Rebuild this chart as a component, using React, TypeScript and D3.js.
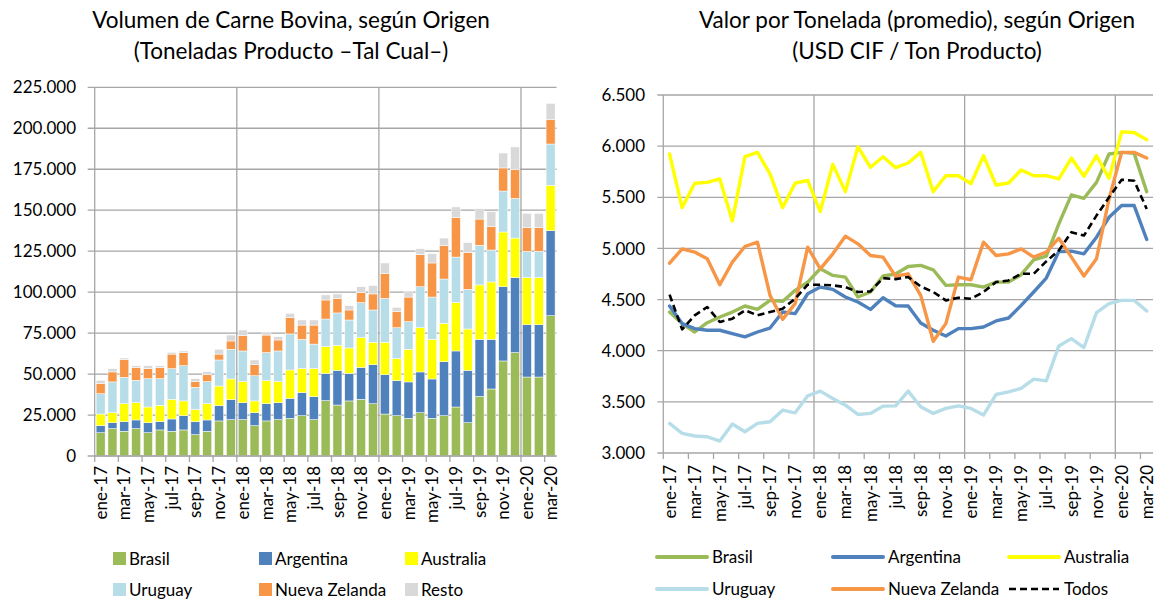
import React from 'react';
import * as d3 from 'd3';

const months = [
  'ene-17','feb-17','mar-17','abr-17','may-17','jun-17','jul-17','ago-17','sep-17','oct-17','nov-17','dic-17',
  'ene-18','feb-18','mar-18','abr-18','may-18','jun-18','jul-18','ago-18','sep-18','oct-18','nov-18','dic-18',
  'ene-19','feb-19','mar-19','abr-19','may-19','jun-19','jul-19','ago-19','sep-19','oct-19','nov-19','dic-19',
  'ene-20','feb-20','mar-20'
];

// Volume (tonnes), by origin
const brasilVol = [14200,16700,15100,16700,14200,15900,15100,15900,13000,15100,21400,22200,22200,18500,21400,22200,23000,24600,22200,33800,31100,33600,34600,31900,25600,24600,23000,26400,23000,24600,29900,20300,36400,40900,58000,63100,48200,48200,85600];
const argentinaVol = [4300,3600,5900,5300,6100,5100,7500,8700,8000,6900,9300,12200,10300,7900,10500,10300,12200,14100,14000,16600,21200,16800,19500,23800,24000,21400,22200,24900,24000,33000,34200,32000,34800,30300,45300,45700,31900,31900,51900];
const australiaVol = [7100,6100,10900,10500,9600,9900,12000,9000,7300,9900,12000,12600,12900,7200,14100,12900,17300,14600,17100,16300,15200,15500,18100,13700,19800,13400,19900,27000,24200,23400,29500,25200,33200,35000,33400,24200,28700,28700,27700];
const uruguayVol = [12400,18800,16100,13700,17300,16300,18700,21500,13600,13500,15900,18100,18700,15400,17100,18700,22000,17900,15000,16900,19800,17100,21400,19700,26800,18900,16900,25000,25800,27000,27800,24200,24200,19500,25000,24200,16100,16100,25200];
const nzVol = [6100,6100,11000,7900,6100,6900,8900,8000,3500,4200,3600,5100,9500,6700,10700,6700,9900,8700,11600,11600,8700,6100,6100,9800,15100,9800,15000,19600,20800,20400,24000,22400,16000,14300,14100,17700,14400,14400,15000];
const restoVol = [2100,2000,800,1000,1800,1000,1100,1000,1800,1900,2900,3600,3300,2900,1900,2000,2700,3100,3100,3100,2900,2600,3600,5200,6500,2600,3700,3600,5700,4600,6600,6100,6300,9100,9100,13700,8800,8800,9800];

// Price (USD CIF / ton)
const brasilPrice = [4378,4265,4183,4274,4330,4378,4437,4404,4492,4482,4590,4671,4801,4736,4720,4525,4574,4730,4750,4824,4834,4791,4639,4645,4645,4622,4671,4671,4743,4889,4925,5240,5523,5490,5646,5923,5939,5929,5555];
const argentinaPrice = [4437,4265,4216,4200,4200,4167,4135,4183,4222,4378,4362,4557,4622,4600,4525,4476,4404,4518,4440,4437,4271,4200,4144,4216,4216,4232,4291,4320,4443,4574,4710,4970,4973,4947,5110,5305,5419,5419,5087];
const australiaPrice = [5923,5399,5637,5646,5679,5269,5897,5939,5728,5399,5637,5666,5360,5822,5555,5994,5793,5897,5790,5835,5939,5555,5711,5711,5633,5906,5620,5640,5767,5711,5711,5679,5884,5705,5906,5685,6140,6134,6062];
const uruguayPrice = [3289,3192,3166,3159,3117,3283,3208,3289,3306,3419,3393,3559,3605,3533,3468,3377,3387,3458,3461,3605,3452,3387,3436,3461,3436,3371,3572,3598,3631,3722,3705,4047,4118,4031,4372,4460,4492,4492,4388];
const nzPrice = [4856,4996,4964,4899,4645,4866,5019,5061,4541,4307,4460,5012,4801,4947,5120,5045,4931,4915,4728,4752,4541,4092,4265,4720,4694,5061,4931,4947,4996,4915,4964,5100,4915,4730,4899,5484,5939,5939,5884];
const todosPrice = [4548,4209,4346,4427,4281,4313,4395,4346,4378,4411,4508,4645,4645,4639,4622,4574,4580,4710,4700,4720,4629,4574,4492,4518,4508,4574,4671,4687,4752,4752,4873,4980,5159,5126,5321,5500,5672,5662,5386];

const volTicks = [0,25000,50000,75000,100000,125000,150000,175000,200000,225000];
const priceTicks = [3000,3500,4000,4500,5000,5500,6000,6500];

const barSeries = [
  { key: 'Brasil', values: brasilVol, color: '#9BBB59' },
  { key: 'Argentina', values: argentinaVol, color: '#4F81BD' },
  { key: 'Australia', values: australiaVol, color: '#FFFF00' },
  { key: 'Uruguay', values: uruguayVol, color: '#B7DEE8' },
  { key: 'Nueva Zelanda', values: nzVol, color: '#F79646' },
  { key: 'Resto', values: restoVol, color: '#D9D9D9' },
];
const lineSeries = [
  { key: 'Brasil', values: brasilPrice, color: '#9BBB59', dash: null },
  { key: 'Argentina', values: argentinaPrice, color: '#4F81BD', dash: null },
  { key: 'Australia', values: australiaPrice, color: '#FFFF00', dash: null },
  { key: 'Uruguay', values: uruguayPrice, color: '#B7DEE8', dash: null },
  { key: 'Nueva Zelanda', values: nzPrice, color: '#F79646', dash: null },
  { key: 'Todos', values: todosPrice, color: '#000000', dash: '7,4' },
];

const FONT = "Lato, 'Open Sans', sans-serif";
const GRID = '#A6A6A6';
const locale = d3.formatLocale({ decimal: ',', thousands: '.', grouping: [3], currency: ['', ''] });
const fmt = locale.format(',');

export default function App() {
  const W = 1158, H = 601;

  // ---------- Left: stacked bars ----------
  const LX0 = 94.7, LX1 = 556.5, LY0 = 456, LY1 = 87.3;
  const xL = d3.scaleBand<string>().domain(months).range([LX0, LX1]).paddingInner(0.24).paddingOuter(0.12);
  const yL = d3.scaleLinear().domain([0, 225000]).range([LY0, LY1]);
  const rows = months.map((m, i) => {
    const r: any = { month: m };
    barSeries.forEach(s => { r[s.key] = s.values[i]; });
    return r;
  });
  const stacked = d3.stack<any>().keys(barSeries.map(s => s.key))(rows);
  const stepL = xL.step();

  // ---------- Right: lines ----------
  const RX0 = 663.3, RX1 = 1153, RY0 = 453, RY1 = 95;
  const xR = d3.scaleBand<string>().domain(months).range([RX0, RX1]).padding(0);
  const yR = d3.scaleLinear().domain([3000, 6500]).range([RY0, RY1]);
  const stepR = xR.step();
  const line = d3.line<number>()
    .x((_, i) => (xR(months[i]) as number) + stepR / 2)
    .y(d => yR(d));

  const evenIdx = d3.range(0, months.length, 2);
  const yearIdx = [12, 24, 36];

  const xLabel = (cx: number, y0: number, text: string, key: string) => (
    <text key={key} transform={`translate(${cx},${y0}) rotate(-90)`} textAnchor="end" dy="0.36em"
      fontSize={17} fontFamily={FONT} fill="#000">{text}</text>
  );

  return (
    <svg width={W} height={H} style={{ position: 'absolute', left: 0, top: 0, background: '#fff' }}>
      <rect width={W} height={H} fill="#fff" />

      {/* Left titles */}
      <text x={291} y={28} textAnchor="middle" fontSize={22.5} fontFamily={FONT} fill="#000">Volumen de Carne Bovina, según Origen</text>
      <text x={291} y={59} textAnchor="middle" fontSize={22.5} fontFamily={FONT} fill="#000">(Toneladas Producto –Tal Cual–)</text>

      {/* Left grid */}
      {volTicks.map(t => (
        <g key={'lg' + t}>
          <line x1={LX0 - 7} x2={LX1} y1={yL(t)} y2={yL(t)} stroke={GRID} strokeWidth={1.3} />
          <text x={76} y={yL(t)} dy="0.36em" textAnchor="end" fontSize={17} fontFamily={FONT} fill="#000">{fmt(t)}</text>
        </g>
      ))}
      {yearIdx.map(i => (
        <line key={'lv' + i} x1={LX0 + i * stepL} x2={LX0 + i * stepL} y1={LY1} y2={LY0} stroke={GRID} strokeWidth={1.3} />
      ))}
      <line x1={LX0} x2={LX0} y1={LY1} y2={LY0} stroke={GRID} strokeWidth={1.3} />

      {/* Bars */}
      {stacked.map((layer, si) => (
        <g key={'bs' + si} fill={barSeries[si].color}>
          {layer.map((d, i) => (
            <rect key={i} x={xL(months[i])} width={xL.bandwidth()} y={yL(d[1])} height={Math.max(0, yL(d[0]) - yL(d[1]))}
              stroke="#fff" strokeWidth={0.5} />
          ))}
        </g>
      ))}
      <line x1={LX0} x2={LX1} y1={LY0} y2={LY0} stroke={GRID} strokeWidth={1.3} />
      {evenIdx.map(i => (
        <line key={'lt' + i} x1={LX0 + i * stepL} x2={LX0 + i * stepL} y1={LY0} y2={LY0 + 6} stroke={GRID} strokeWidth={1.3} />
      ))}
      {evenIdx.map(i => xLabel((xL(months[i]) as number) + xL.bandwidth() / 2, LY0 + 10, months[i], 'lx' + i))}

      {/* Left legend */}
      {barSeries.map((s, i) => {
        const col = i % 3, row = Math.floor(i / 3);
        const x = 113 + col * 146, y = 552 + row * 31;
        return (
          <g key={'ll' + i}>
            <rect x={x} y={y} width={13} height={13} fill={s.color} />
            <text x={x + 16} y={y + 6.5} dy="0.36em" fontSize={17} fontFamily={FONT} fill="#000">{s.key}</text>
          </g>
        );
      })}

      {/* Right titles */}
      <text x={917} y={28} textAnchor="middle" fontSize={22.5} fontFamily={FONT} fill="#000">Valor por Tonelada (promedio), según Origen</text>
      <text x={917} y={59} textAnchor="middle" fontSize={22.5} fontFamily={FONT} fill="#000">(USD CIF / Ton Producto)</text>

      {/* Right grid */}
      {priceTicks.map(t => (
        <g key={'rg' + t}>
          <line x1={RX0 - 6} x2={RX1} y1={yR(t)} y2={yR(t)} stroke={GRID} strokeWidth={1.3} />
          <text x={645} y={yR(t)} dy="0.36em" textAnchor="end" fontSize={17} fontFamily={FONT} fill="#000">{fmt(t)}</text>
        </g>
      ))}
      {yearIdx.map(i => (
        <line key={'rv' + i} x1={RX0 + i * stepR} x2={RX0 + i * stepR} y1={RY1} y2={RY0} stroke={GRID} strokeWidth={1.3} />
      ))}
      <line x1={RX0} x2={RX0} y1={RY1} y2={RY0} stroke={GRID} strokeWidth={1.3} />
      {evenIdx.map(i => (
        <line key={'rt' + i} x1={RX0 + i * stepR} x2={RX0 + i * stepR} y1={RY0} y2={RY0 + 6} stroke={GRID} strokeWidth={1.3} />
      ))}
      {evenIdx.map(i => xLabel((xR(months[i]) as number) + stepR / 2, RY0 + 12, months[i], 'rx' + i))}

      {/* Lines */}
      {lineSeries.map(s => (
        <path key={'ln' + s.key} d={line(s.values) as string} fill="none" stroke={s.color}
          strokeWidth={s.dash ? 2.6 : 3.4} strokeDasharray={s.dash || undefined}
          strokeLinejoin="round" strokeLinecap={s.dash ? 'butt' : 'round'} />
      ))}

      {/* Right legend */}
      {lineSeries.map((s, i) => {
        const col = i % 3, row = Math.floor(i / 3);
        const x = 657 + col * 176, y = 557 + row * 32;
        return (
          <g key={'rl' + i}>
            <line x1={x} x2={x + 50} y1={y} y2={y} stroke={s.color} strokeWidth={s.dash ? 2.6 : 4}
              strokeDasharray={s.dash || undefined} strokeLinecap={s.dash ? 'butt' : 'round'} />
            <text x={x + 55} y={y} dy="0.36em" fontSize={17} fontFamily={FONT} fill="#000">{s.key}</text>
          </g>
        );
      })}
    </svg>
  );
}
